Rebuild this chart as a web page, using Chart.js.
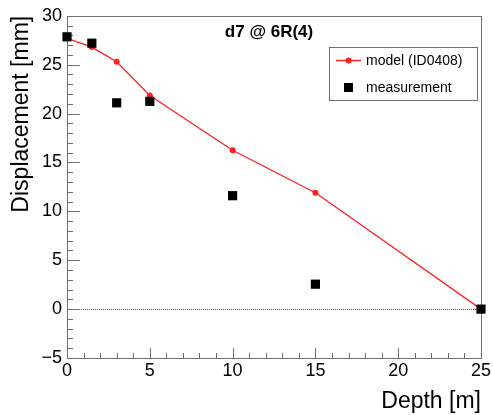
<!DOCTYPE html>
<html>
<head>
<meta charset="utf-8">
<script src="https://cdn.jsdelivr.net/npm/chart.js@4/dist/chart.umd.min.js"></script>
<style>
  html, body { margin: 0; padding: 0; background: #fff; }
  #wrap { width: 493px; height: 415px; }
</style>
</head>
<body>
<div id="wrap"><canvas id="c"></canvas></div>
<script>
// d7 @ 6R(4) — displacement vs depth
const depth = [0, 1.5, 3, 5, 10, 15, 25];
const modelDisp = [27.7, 26.8, 25.3, 21.85, 16.25, 11.9, 0];
const measDisp = [27.85, 27.2, 21.1, 21.25, 11.6, 2.55, 0];
const xTicks = [0, 5, 10, 15, 20, 25];
const yTicks = [-5, 0, 5, 10, 15, 20, 25, 30];

const FONT = '"Liberation Sans", Helvetica, Arial, sans-serif';
const FRAME = '#6e6e6e';

const pts = (ys) => depth.map((x, i) => ({ x, y: ys[i] }));

// ROOT-like frame: inner ticks, dotted zero line, title and legend
const rootFrame = {
  id: 'rootFrame',
  beforeDatasetsDraw(chart) {
    const { ctx, chartArea: a, scales: { x, y } } = chart;
    ctx.save();
    // zero line
    ctx.strokeStyle = '#555';
    ctx.lineWidth = 1;
    ctx.setLineDash([1, 1]);
    const y0 = Math.round(y.getPixelForValue(0)) + 0.5;
    ctx.beginPath(); ctx.moveTo(a.left, y0); ctx.lineTo(a.right, y0); ctx.stroke();
    ctx.setLineDash([]);
    // ticks
    ctx.strokeStyle = FRAME;
    ctx.beginPath();
    for (let v = -5; v <= 30; v++) {
      const py = Math.round(y.getPixelForValue(v)) + 0.5;
      const len = v % 5 === 0 ? 13 : 6;
      ctx.moveTo(a.left, py); ctx.lineTo(a.left + len, py);
    }
    for (let v = 0; v <= 25; v++) {
      const px = Math.round(x.getPixelForValue(v)) + 0.5;
      const len = v % 5 === 0 ? 10 : 5;
      ctx.moveTo(px, a.bottom); ctx.lineTo(px, a.bottom - len);
    }
    ctx.stroke();
    // frame
    ctx.strokeRect(Math.round(a.left) + 0.5, Math.round(a.top) + 0.5,
      Math.round(a.right - a.left), Math.round(a.bottom - a.top));
    ctx.restore();
  },
  afterDraw(chart) {
    const { ctx } = chart;
    ctx.save();
    ctx.fillStyle = '#000';
    ctx.font = 'bold 17px ' + FONT;
    ctx.textAlign = 'center';
    ctx.textBaseline = 'middle';
    ctx.fillText('d7 @ 6R(4)', 269, 32);

    // legend
    ctx.strokeStyle = FRAME;
    ctx.lineWidth = 1;
    ctx.fillStyle = '#fff';
    ctx.fillRect(329.5, 47.5, 148, 53);
    ctx.strokeRect(329.5, 47.5, 148, 53);
    ctx.strokeStyle = '#ff2020';
    ctx.lineWidth = 1.5;
    ctx.beginPath(); ctx.moveTo(336, 60.5); ctx.lineTo(361, 60.5); ctx.stroke();
    ctx.fillStyle = '#ff2020';
    ctx.beginPath(); ctx.arc(348.5, 60.5, 3, 0, Math.PI * 2); ctx.fill();
    ctx.fillStyle = '#000';
    ctx.fillRect(344, 83, 9, 9);
    ctx.font = '14px ' + FONT;
    ctx.textAlign = 'left';
    ctx.fillText('model (ID0408)', 366, 61);
    ctx.fillText('measurement', 366, 88);
    ctx.restore();
  }
};

new Chart(document.getElementById('c'), {
  type: 'scatter',
  data: {
    datasets: [
      {
        label: 'measurement',
        data: pts(measDisp),
        showLine: false,
        clip: false,
        pointStyle: 'rect',
        pointRadius: 6.5,
        pointHoverRadius: 6.5,
        backgroundColor: '#000',
        borderColor: '#000',
        borderWidth: 0,
        order: 0
      },
      {
        label: 'model (ID0408)',
        data: pts(modelDisp),
        showLine: true,
        clip: false,
        tension: 0,
        borderColor: '#ff2020',
        backgroundColor: '#ff2020',
        borderWidth: 1.3,
        pointRadius: 3,
        pointHoverRadius: 3,
        pointBorderWidth: 0,
        order: 1
      }
    ]
  },
  options: {
    responsive: true,
    maintainAspectRatio: false,
    animation: false,
    events: [],
    layout: { padding: { top: 14, right: 10, left: 0, bottom: 0 } },
    plugins: { legend: { display: false }, tooltip: { enabled: false } },
    scales: {
      x: {
        type: 'linear',
        min: 0, max: 25,
        afterBuildTicks: (s) => { s.ticks = xTicks.map(v => ({ value: v })); },
        afterFit: (s) => { s.height = 57; },
        grid: { display: false, drawTicks: false },
        border: { display: false },
        ticks: { color: '#000', font: { family: FONT, size: 18 }, padding: 2, maxRotation: 0 },
        title: { display: true, text: 'Depth [m]', align: 'end', color: '#000',
                 font: { family: FONT, size: 23 }, padding: { top: 6, bottom: 0 } }
      },
      y: {
        type: 'linear',
        min: -5, max: 30,
        afterBuildTicks: (s) => { s.ticks = yTicks.map(v => ({ value: v })); },
        afterFit: (s) => { s.width = 67; },
        grid: { display: false, drawTicks: false },
        border: { display: false },
        ticks: { color: '#000', font: { family: FONT, size: 18 }, padding: 5,
                 callback: (v) => v < 0 ? '\u2212' + Math.abs(v) : String(v) },
        title: { display: true, text: 'Displacement [mm]', align: 'end', color: '#000',
                 font: { family: FONT, size: 23 }, padding: { top: 8, bottom: 1 } }
      }
    }
  },
  plugins: [rootFrame]
});
</script>
</body>
</html>
